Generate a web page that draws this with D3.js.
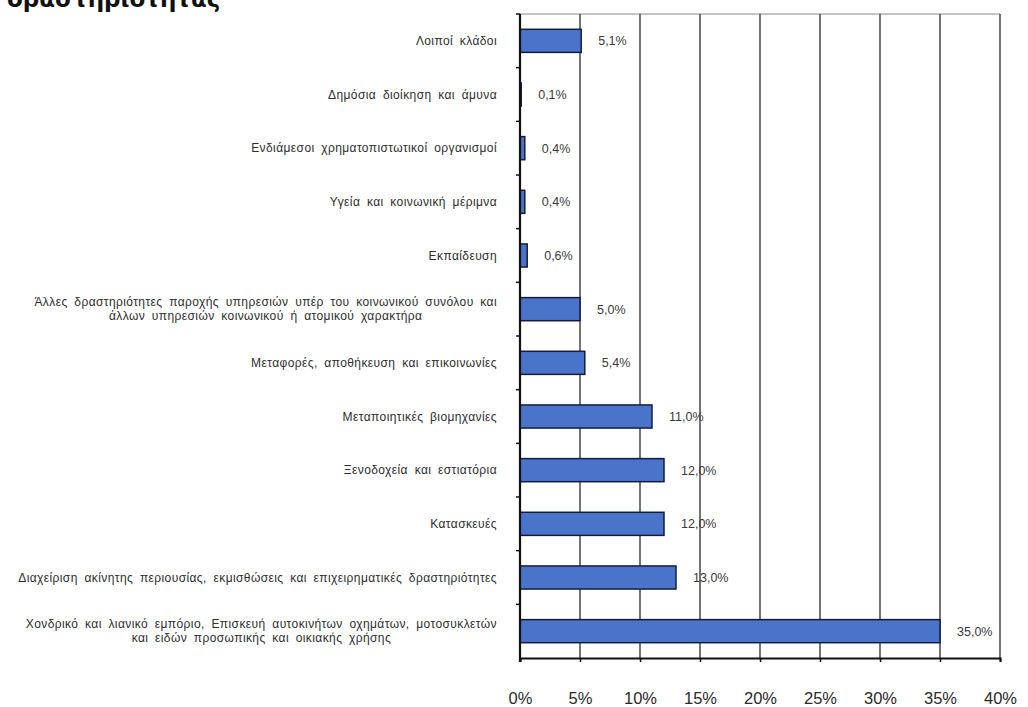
<!DOCTYPE html>
<html>
<head>
<meta charset="utf-8">
<script src="https://cdn.jsdelivr.net/npm/d3@7"></script>
<style>
  html, body { margin: 0; padding: 0; background: #ffffff; }
  svg { display: block; }
</style>
</head>
<body>
<svg id="chart" width="1028" height="707"></svg>
<script>
const titleText = "δραστηριότητας";

const categories = [
  "Λοιποί κλάδοι",
  "Δημόσια διοίκηση και άμυνα",
  "Ενδιάμεσοι χρηματοπιστωτικοί οργανισμοί",
  "Υγεία και κοινωνική μέριμνα",
  "Εκπαίδευση",
  "Άλλες δραστηριότητες παροχής υπηρεσιών υπέρ του κοινωνικού συνόλου και\nάλλων υπηρεσιών κοινωνικού ή ατομικού χαρακτήρα",
  "Μεταφορές, αποθήκευση και επικοινωνίες",
  "Μεταποιητικές βιομηχανίες",
  "Ξενοδοχεία και εστιατόρια",
  "Κατασκευές",
  "Διαχείριση ακίνητης περιουσίας, εκμισθώσεις και επιχειρηματικές δραστηριότητες",
  "Χονδρικό και λιανικό εμπόριο, Επισκευή αυτοκινήτων οχημάτων, μοτοσυκλετών\nκαι ειδών προσωπικής και οικιακής χρήσης"
];

const values = [5.1, 0.1, 0.4, 0.4, 0.6, 5.0, 5.4, 11.0, 12.0, 12.0, 13.0, 35.0];

const xTicks = [0, 5, 10, 15, 20, 25, 30, 35, 40];

const svg = d3.select("#chart");
const margin = { left: 520, right: 28, top: 14, bottom: 49 };
const W = 1028, H = 707;

const x = d3.scaleLinear().domain([0, 40]).range([margin.left, W - margin.right]);
const y = d3.scaleBand().domain(categories).range([margin.top, H - margin.bottom]).paddingInner(0.57).paddingOuter(0.285);
const yBand = d3.scaleBand().domain(categories).range([margin.top, H - margin.bottom]);

// title (only the last line visible, cut off at top as in the reference)
svg.append("text")
  .attr("x", 7).attr("y", 7)
  .attr("font-family", "DejaVu Sans, sans-serif")
  .attr("font-weight", "bold")
  .attr("font-size", 23)
  .attr("fill", "#111")
  .text(titleText);

// top border
svg.append("line")
  .attr("x1", x(0)).attr("x2", x(40))
  .attr("y1", margin.top).attr("y2", margin.top)
  .attr("stroke", "#8a8a8a").attr("stroke-width", 1.2);

// grid lines
svg.append("g")
  .selectAll("line")
  .data(xTicks.filter(d => d > 0))
  .join("line")
  .attr("x1", d => x(d)).attr("x2", d => x(d))
  .attr("y1", margin.top).attr("y2", H - margin.bottom)
  .attr("stroke", "#3a3a3a").attr("stroke-width", 1.4);

// bars
svg.append("g")
  .selectAll("rect")
  .data(values)
  .join("rect")
  .attr("x", x(0))
  .attr("y", (d, i) => y(categories[i]))
  .attr("width", d => x(d) - x(0))
  .attr("height", y.bandwidth())
  .attr("fill", "#4a74c9")
  .attr("stroke", "#141c3a")
  .attr("stroke-width", 1.5);

// value labels
svg.append("g")
  .selectAll("text")
  .data(values)
  .join("text")
  .attr("x", d => x(d) + 17)
  .attr("y", (d, i) => y(categories[i]) + y.bandwidth() / 2)
  .attr("dy", "0.35em")
  .attr("font-family", "Liberation Sans, Arial, sans-serif")
  .attr("font-size", 12.5)
  .attr("fill", "#3a3a3a")
  .text(d => d.toFixed(1).replace(".", ",") + "%");

// x axis
const xAxis = d3.axisBottom(x).tickValues(xTicks).tickSize(4).tickFormat(d => d + "%");
const gx = svg.append("g").attr("transform", `translate(0,${H - margin.bottom})`).call(xAxis);
gx.select(".domain").attr("stroke", "#111").attr("stroke-width", 2);
gx.selectAll(".tick line").attr("stroke", "#111").attr("stroke-width", 1.5);
gx.selectAll(".tick text")
  .attr("y", 34)
  .attr("font-family", "Liberation Sans, Arial, sans-serif")
  .attr("font-size", 16.5)
  .attr("fill", "#2a2a2a");

// y axis line with ticks at band boundaries
const gy = svg.append("g");
gy.append("line")
  .attr("x1", x(0)).attr("x2", x(0))
  .attr("y1", margin.top).attr("y2", H - margin.bottom + 4)
  .attr("stroke", "#111").attr("stroke-width", 2.2);
gy.selectAll("line.t")
  .data(categories)
  .join("line")
  .attr("class", "t")
  .attr("x1", x(0) - 4).attr("x2", x(0))
  .attr("y1", d => yBand(d)).attr("y2", d => yBand(d))
  .attr("stroke", "#111").attr("stroke-width", 1.5);

// category labels
const labelRight = 497;
const lineH = 14;
categories.forEach((c, i) => {
  const lines = c.split("\n");
  const cy = y(c) + y.bandwidth() / 2;
  const g = svg.append("g");
  const texts = lines.map((ln, k) => g.append("text")
    .attr("y", cy + (k - (lines.length - 1) / 2) * lineH)
    .attr("dy", "0.35em")
    .attr("font-family", "Liberation Sans, Arial, sans-serif")
    .attr("font-size", 12)
    .attr("letter-spacing", 0.4)
    .attr("word-spacing", 3)
    .attr("fill", "#2e2e2e")
    .attr("text-anchor", "middle")
    .text(ln));
  const maxW = d3.max(texts, t => t.node().getComputedTextLength());
  texts.forEach(t => t.attr("x", labelRight - maxW / 2));
});
</script>
</body>
</html>
